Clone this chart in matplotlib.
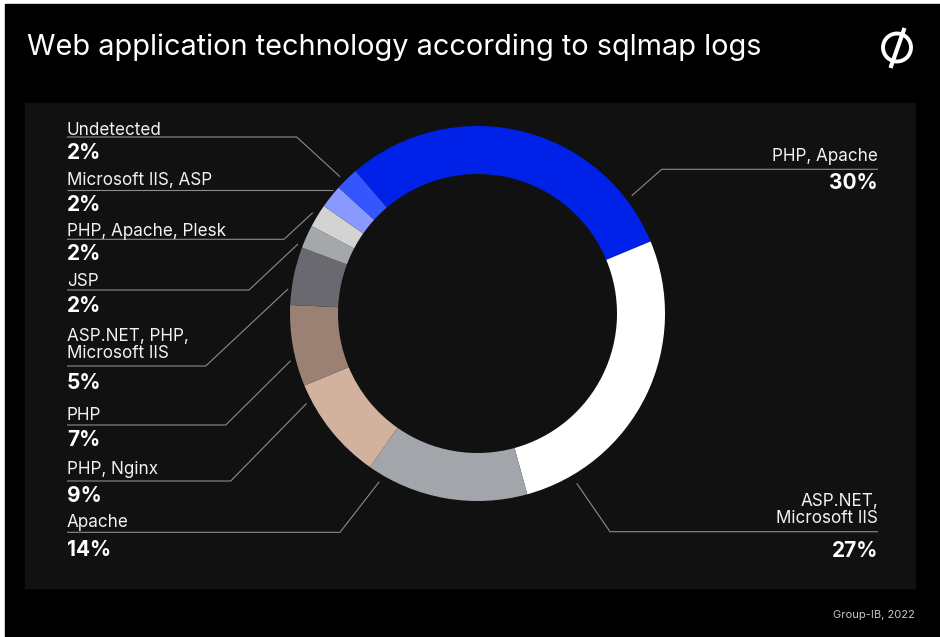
import matplotlib.pyplot as plt
from matplotlib.patches import Rectangle, Circle

plt.rcParams['font.family'] = ['Inter', 'DejaVu Sans']

# slices, clockwise from the top-left
labels = ['PHP, Apache', 'ASP.NET,\nMicrosoft IIS', 'Apache', 'PHP, Nginx', 'PHP',
          'ASP.NET, PHP,\nMicrosoft IIS', 'JSP', 'PHP, Apache, Plesk',
          'Microsoft IIS, ASP', 'Undetected']
shares = [30, 27, 14, 9, 7, 5, 2, 2, 2, 2]
colors = ['#0022e8', '#ffffff', '#a2a6ab', '#d2b29e', '#9a8174', '#6b6970',
          '#a4a7ab', '#d3d3d3', '#8a99ff', '#3556ff']

W, H = 940, 637
fig = plt.figure(figsize=(W / 100, H / 100), dpi=100, facecolor='white')
ax = fig.add_axes([0, 0, 1, 1])


def Y(y):
    # pixel rows are counted from the top
    return H - y


# background + panel
ax.add_patch(Rectangle((5, 0), W - 5, H - 4, color='black', zorder=0))
ax.add_patch(Rectangle((25, Y(588)), 890, 485, color='#111111', zorder=0))

ax.pie(shares, colors=colors, startangle=130.6, counterclock=False,
       radius=187.5, center=(477.5, Y(313.5)),
       wedgeprops=dict(width=48, edgecolor='none', linewidth=0))
ax.set_xlim(0, W)
ax.set_ylim(0, H)
ax.set_aspect('auto')
ax.axis('off')

# label layout: name baseline, line row, percent baseline, leader bend + end
left = {
    'Undetected': (135, 137, 159.3, 296.7, (340, 176.7)),
    'Microsoft IIS, ASP': (185, 190, 210.7, 330.7, (333, 190)),
    'PHP, Apache, Plesk': (235.5, 239.3, 260, 284, (312.7, 212.7)),
    'JSP': (286, 290, 311.7, 249, (298, 244)),
    'ASP.NET, PHP,\nMicrosoft IIS': (358.3, 366, 389, 205.7, (288, 289)),
    'PHP': (420, 425, 446, 225.7, (290.7, 360.7)),
    'PHP, Nginx': (474, 481, 502.3, 230.7, (306.7, 403.3)),
    'Apache': (527.3, 532.3, 556, 340, (379.3, 481.7)),
}
right = {
    'PHP, Apache': (161, 169.3, 189, 661.7, (631.7, 195.7)),
    'ASP.NET,\nMicrosoft IIS': (523.3, 531.7, 556.7, 610, (576.7, 483.3)),
}

line_col = '#8c8c8c'
name_kw = dict(color='#f2f2f2', fontsize=12.3, va='baseline', linespacing=1.05)
pct_kw = dict(color='white', fontsize=15, fontweight='bold', va='baseline')

for lab, share in zip(labels, shares):
    if lab in left:
        nb, ly, pb, xb, end = left[lab]
        x0, ha = 67, 'left'
    else:
        nb, ly, pb, xb, end = right[lab]
        x0, ha = 878, 'right'
    ax.plot([x0, xb, end[0]], [Y(ly), Y(ly), Y(end[1])], color=line_col,
            lw=0.8, solid_capstyle='butt', zorder=1)
    ax.text(x0, Y(nb), lab, ha=ha, multialignment=ha, **name_kw)
    ax.text(x0, Y(pb), f'{share}%', ha=ha, **pct_kw)

# title, logo, source
ax.text(27, Y(55), 'Web application technology according to sqlmap logs',
        color='white', fontsize=20.8, va='baseline', ha='left')
ax.add_patch(Circle((897, Y(47.5)), 14, fill=False, ec='white', lw=2.8))
ax.plot([890.5, 904.5], [Y(68), Y(28)], color='white', lw=3,
        solid_capstyle='butt')
ax.text(915, Y(618), 'Group-IB, 2022', color='#c8c8c8', fontsize=8,
        ha='right', va='baseline')

fig.savefig('out.png', dpi=100, facecolor=fig.get_facecolor())
